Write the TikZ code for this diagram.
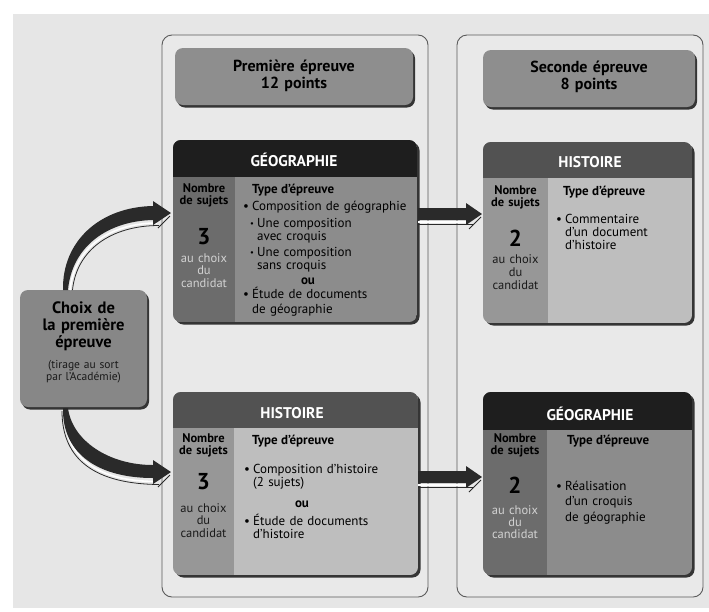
\documentclass[tikz,border=0pt]{standalone}
\usepackage{fontspec}
\setmainfont{PT Sans}
\usetikzlibrary{calc,fit}
\definecolor{bgc}{HTML}{E6E6E6}
\definecolor{panelfill}{HTML}{E9E9E9}
\definecolor{panelline}{HTML}{5A5A5A}
\definecolor{hdrfill}{HTML}{8E8E8E}
\definecolor{shadowc}{HTML}{353535}
\definecolor{blacktitle}{HTML}{1E1E1E}
\definecolor{greytitle}{HTML}{525252}
\definecolor{darkcol}{HTML}{6C6C6C}
\definecolor{darkbody}{HTML}{8C8C8C}
\definecolor{midcol}{HTML}{979797}
\definecolor{lightbody}{HTML}{BEBEBE}
\definecolor{choixfill}{HTML}{878787}
\definecolor{lighttext}{HTML}{D2D2D2}
\definecolor{darktext}{HTML}{1A1A1A}
\definecolor{arrowdark}{HTML}{2A2A2A}
\newcommand\fsz[2]{\fontsize{#1}{#2}\selectfont}
\newcommand\bul{\makebox[9pt][l]{•}}
\newcommand\sbul{\makebox[7pt][l]{\raisebox{0.6pt}{\fsz{8.5}{8.5}•}}}
% #1 name, #2 NW, #3 SE, #4 title height, #5 left col width, #6 title col, #7 left col, #8 body col
\newcommand\contentbox[8]{%
  \coordinate (#1nw) at #2;
  \coordinate (#1se) at #3;
  \node[fit=(#1nw)(#1se), inner sep=0pt, outer sep=0pt] (#1) {};
  \fill[shadowc, rounded corners=8pt] ($(#1.north west)+(2.5,2.5)$) rectangle ($(#1.south east)+(2.5,2.5)$);
  \begin{scope}
    \clip[rounded corners=8pt] (#1.north west) rectangle (#1.south east);
    \fill[#8] (#1.north west) rectangle (#1.south east);
    \fill[#7] (#1.north west) rectangle ($(#1.south west)+(#5,0)$);
    \fill[#6] (#1.north west) rectangle ($(#1.north east)+(0,#4)$);
  \end{scope}}
\newcommand\greybox[4]{%
  \coordinate (#1nw) at #2;
  \coordinate (#1se) at #3;
  \node[fit=(#1nw)(#1se), inner sep=0pt, outer sep=0pt] (#1) {};
  \fill[shadowc, rounded corners=8pt] ($(#1.north west)+(2,2.5)$) rectangle ($(#1.south east)+(2,2.5)$);
  \fill[#4, rounded corners=8pt] (#1.north west) rectangle (#1.south east);}
\begin{document}
\begin{tikzpicture}[x=1pt,y=-1pt,
  panel/.style={draw=panelline, line width=0.9pt, fill=panelfill, rounded corners=10pt},
  ttl/.style={text=white, font=\bfseries\fsz{15.5}{16}, anchor=base, inner sep=0pt},
  hdr/.style={font=\bfseries\fsz{16}{17}, anchor=base, align=center, text width=220pt, inner sep=0pt},
  nb/.style={font=\bfseries\fsz{12.5}{12.5}, anchor=base, align=center, text width=64pt, inner sep=0pt},
  bignum/.style={font=\bfseries\fsz{23}{23}, anchor=base, inner sep=0pt},
  cand/.style={font=\fsz{12.5}{12.5}, anchor=base, align=center, text width=64pt, inner sep=0pt},
  typ/.style={font=\bfseries\fsz{13}{14}, anchor=base west, inner sep=0pt},
  itm/.style={font=\fsz{13}{14}, anchor=base west, align=left, text width=180pt, inner sep=0pt},
  oux/.style={font=\bfseries\fsz{13}{14}, anchor=base, inner sep=0pt},
  hilite/.style={draw=white, line width=1.6pt},
  darkline/.style={draw=arrowdark, line width=0.8pt},
]
\useasboundingbox (0,0) rectangle (709,611);
\fill[white] (0,0) rectangle (709,611);
\fill[bgc] (13,14) rectangle (709,608);

% panels
\coordinate (p1nw) at (162,35); \coordinate (p1se) at (428,597);
\coordinate (p2nw) at (457,35); \coordinate (p2se) at (703,597);
\draw[panel] (p1nw) rectangle (p1se);
\draw[panel] (p2nw) rectangle (p2se);

% headers
\greybox{h1}{(175,48)}{(413,105)}{hdrfill}
\node[hdr] (h1t) at (294,71) {Première épreuve\\12 points};
\greybox{h2}{(483,50)}{(695,107)}{hdrfill}
\node[hdr] (h2t) at (589,72) {Seconde épreuve\\8 points};

% choix box
\greybox{choix}{(20,290)}{(147,407)}{choixfill}
\node[hdr, text width=124pt, font=\bfseries\fsz{16.5}{17}] (choixt) at (83.5,313) {Choix de\\la première\\épreuve};
\node[cand, text width=124pt, font=\fsz{11.5}{12.5}, text=darktext] (choixs) at (83.5,368) {(tirage au sort\\par l’Académie)};

% top left: GEOGRAPHIE
\contentbox{geo1}{(173,140)}{(417,322)}{37}{62}{blacktitle}{darkcol}{darkbody}
\node[ttl] (geo1t) at (294,166) {GÉOGRAPHIE};
\node[nb] (geo1n) at (204,192) {Nombre\\de sujets};
\node[bignum] (geo1k) at (204,244) {3};
\node[cand, text=lighttext] (geo1c) at (204,262) {au choix\\du\\candidat};
\node[typ] (geo1ty) at (252,193) {Type d’épreuve};
\node[itm] (geo1a) at (243,210) {\bul Composition de géographie};
\node[itm, font=\fsz{13}{13.5}] (geo1b) at (250,227) {\sbul Une composition\\\hspace*{7pt}avec croquis};
\node[itm, font=\fsz{13}{13.5}] (geo1d) at (250,256) {\sbul Une composition\\\hspace*{7pt}sans croquis};
\node[oux] (geo1ou) at (308,284) {ou};
\node[itm, font=\fsz{13}{15}] (geo1e) at (243,298) {\bul Étude de documents\\\hspace*{9pt}de géographie};

% top right: HISTOIRE
\contentbox{hist1}{(483,142)}{(692,323)}{36}{65}{greytitle}{midcol}{lightbody}
\node[ttl] (hist1t) at (590,167) {HISTOIRE};
\node[nb] (hist1n) at (515.5,194) {Nombre\\de sujets};
\node[bignum] (hist1k) at (515.5,246) {2};
\node[cand, text=darktext, font=\fsz{12.5}{13}] (hist1c) at (515.5,263) {au choix\\du\\candidat};
\node[typ] (hist1ty) at (563,195) {Type d’épreuve};
\node[itm, font=\fsz{13}{13}] (hist1a) at (556,223) {\bul Commentaire\\\hspace*{9pt}d’un document\\\hspace*{9pt}d’histoire};

% bottom left: HISTOIRE
\contentbox{hist2}{(173,392)}{(418,575)}{36}{61}{greytitle}{midcol}{lightbody}
\node[ttl] (hist2t) at (292,418) {HISTOIRE};
\node[nb] (hist2n) at (203.5,442) {Nombre\\de sujets};
\node[bignum] (hist2k) at (203.5,489) {3};
\node[cand, text=darktext] (hist2c) at (203.5,512) {au choix\\du\\candidat};
\node[typ] (hist2ty) at (252,444) {Type d’épreuve};
\node[itm, font=\fsz{13}{13}] (hist2a) at (244,473) {\bul Composition d’histoire\\\hspace*{9pt}(2 sujets)};
\node[oux] (hist2ou) at (302,507) {ou};
\node[itm, font=\fsz{13}{13}] (hist2b) at (244,525) {\bul Étude de documents\\\hspace*{9pt}d’histoire};

% bottom right: GEOGRAPHIE
\contentbox{geo2}{(483,392)}{(692,575)}{38}{64}{blacktitle}{darkcol}{darkbody}
\node[ttl] (geo2t) at (590,420) {GÉOGRAPHIE};
\node[nb] (geo2n) at (515,442) {Nombre\\de sujets};
\node[bignum] (geo2k) at (515,493) {2};
\node[cand, text=lighttext, font=\fsz{12.5}{12}] (geo2c) at (515,514) {au choix\\du\\candidat};
\node[typ] (geo2ty) at (567,444) {Type d’épreuve};
\node[itm, font=\fsz{13}{15.5}] (geo2a) at (556,490) {\bul Réalisation\\\hspace*{9pt}d’un croquis\\\hspace*{9pt}de géographie};

% curved arrow to top box
\coordinate (a1s) at ($(choix.north west)+(43,0)$);
\coordinate (a1t) at ($(geo1.north west)+(-2,73)$);
\draw[darkline] ($(a1s)+(9.5,0)$) .. controls ($(a1s)+(13.5,-40)$) and ($(a1t)+(-60,12.5)$) .. ($(a1t)+(-12,12.5)$);
\draw[hilite] ($(a1s)+(7,0)$) .. controls ($(a1s)+(11,-42)$) and ($(a1t)+(-61,10)$) .. ($(a1t)+(-14,10)$);
\fill[arrowdark] (a1s) .. controls ($(a1s)+(-1,-49)$) and ($(a1t)+(-71,-6)$) .. ($(a1t)+(-18,-7)$)
  -- ($(a1t)+(-18,-12)$) -- (a1t) -- ($(a1t)+(-18,12)$) -- ($(a1t)+(-18,7)$)
  .. controls ($(a1t)+(-63,8)$) and ($(a1s)+(9,-44)$) .. ($(a1s)+(5,0)$) -- cycle;
\draw[darkline] ($(a1t)+(-1,3)$) -- ($(a1t)+(-13,15)$);

% curved arrow to bottom box
\coordinate (a2s) at ($(choix.south west)+(43,0)$);
\coordinate (a2t) at ($(hist2.north west)+(-2,80)$);
\draw[darkline] ($(a2s)+(-1,4)$) .. controls ($(a2s)+(-1,54)$) and ($(a2t)+(-74,12)$) .. ($(a2t)+(-12,12.5)$);
\draw[hilite] ($(a2s)+(1,3)$) .. controls ($(a2s)+(1,51)$) and ($(a2t)+(-73,9.5)$) .. ($(a2t)+(-14,9.5)$);
\fill[arrowdark] ($(a2s)+(5,1)$) .. controls ($(a2s)+(9,33)$) and ($(a2t)+(-63,-7)$) .. ($(a2t)+(-18,-7)$)
  -- ($(a2t)+(-18,-12)$) -- (a2t) -- ($(a2t)+(-18,12)$) -- ($(a2t)+(-18,6)$)
  .. controls ($(a2t)+(-71,6)$) and ($(a2s)+(-1,48)$) .. ($(a2s)+(0,1)$) -- cycle;
\draw[darkline] ($(a2t)+(-1,3)$) -- ($(a2t)+(-13,15)$);

% horizontal arrows
\coordinate (h1s) at ($(geo1.north east)+(1,74)$);
\coordinate (h1e) at ($(hist1.north west)+(-1,72)$);
\draw[darkline] ($(h1s)+(0,10.5)$) -- ($(h1e)+(-9,10.5)$);
\draw[hilite] ($(h1s)+(0,8)$) -- ($(h1e)+(-12,8)$);
\fill[arrowdark] ($(h1s)+(0,-6)$) -- ($(h1e)+(-16,-6)$) -- ($(h1e)+(-16,-11)$) -- (h1e)
  -- ($(h1e)+(-16,11)$) -- ($(h1e)+(-16,6)$) -- ($(h1s)+(0,6)$) -- cycle;
\draw[darkline] ($(h1e)+(-1,3)$) -- ($(h1e)+(-13,15)$);

\coordinate (h2s) at ($(hist2.north east)+(0,85)$);
\coordinate (h2e) at ($(geo2.north west)+(-1,85)$);
\draw[darkline] ($(h2s)+(0,10.5)$) -- ($(h2e)+(-9,10.5)$);
\draw[hilite] ($(h2s)+(0,8)$) -- ($(h2e)+(-12,8)$);
\fill[arrowdark] ($(h2s)+(0,-6)$) -- ($(h2e)+(-16,-6)$) -- ($(h2e)+(-16,-11)$) -- (h2e)
  -- ($(h2e)+(-16,11)$) -- ($(h2e)+(-16,6)$) -- ($(h2s)+(0,6)$) -- cycle;
\draw[darkline] ($(h2e)+(-1,3)$) -- ($(h2e)+(-13,15)$);
\end{tikzpicture}
\end{document}
